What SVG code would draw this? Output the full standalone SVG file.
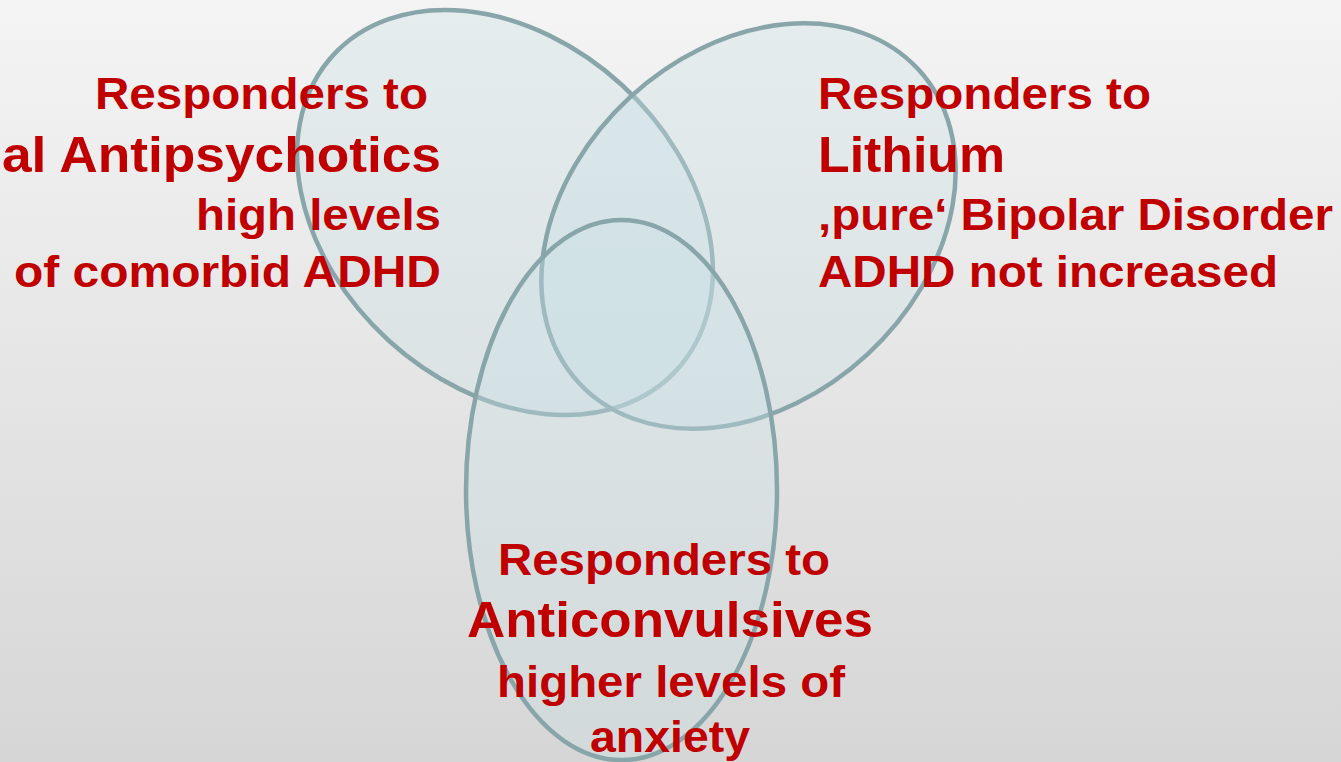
<svg xmlns="http://www.w3.org/2000/svg" width="1341" height="762" viewBox="0 0 1341 762">
  <defs>
    <linearGradient id="bg" x1="0" y1="0" x2="0" y2="1">
      <stop offset="0" stop-color="#f4f4f4"/>
      <stop offset="1" stop-color="#d6d6d6"/>
    </linearGradient>
    <style>
      .set { fill: #c8e0e5; fill-opacity: 0.35; stroke: #88a6aa; stroke-width: 4.5; }
      .lbl { font-family: "Liberation Sans", Arial, sans-serif; font-weight: bold; fill: #c00000; }
      .sm { font-size: 45px; }
      .lg { font-size: 50px; }
    </style>
  </defs>
  <rect x="0" y="0" width="1341" height="762" fill="url(#bg)"/>

  <g id="ellipse-antipsychotics">
    <ellipse class="set" cx="505" cy="212.5" rx="233" ry="173" transform="rotate(42.4 505 212.5)"/>
  </g>
  <g id="ellipse-lithium">
    <ellipse class="set" cx="748.5" cy="226" rx="231" ry="175" transform="rotate(-42.7 748.5 226)"/>
  </g>
  <g id="ellipse-anticonvulsives">
    <ellipse class="set" cx="621.5" cy="490" rx="155.5" ry="270"/>
  </g>

  <g id="label-antipsychotics" class="lbl">
    <text class="sm" x="95" y="109" textLength="333" lengthAdjust="spacingAndGlyphs">Responders to</text>
    <text class="lg" x="2" y="172" textLength="439" lengthAdjust="spacingAndGlyphs">al Antipsychotics</text>
    <text class="sm" x="196" y="230" textLength="245" lengthAdjust="spacingAndGlyphs">high levels</text>
    <text class="sm" x="14" y="287" textLength="427" lengthAdjust="spacingAndGlyphs">of comorbid ADHD</text>
  </g>

  <g id="label-lithium" class="lbl">
    <text class="sm" x="818" y="109" textLength="333" lengthAdjust="spacingAndGlyphs">Responders to</text>
    <text class="lg" x="818" y="172" textLength="187" lengthAdjust="spacingAndGlyphs">Lithium</text>
    <text class="sm" x="818" y="230" textLength="515" lengthAdjust="spacingAndGlyphs">‚pure‘ Bipolar Disorder</text>
    <text class="sm" x="818" y="287" textLength="460" lengthAdjust="spacingAndGlyphs">ADHD not increased</text>
  </g>

  <g id="label-anticonvulsives" class="lbl">
    <text class="sm" x="498" y="575" textLength="332" lengthAdjust="spacingAndGlyphs">Responders to</text>
    <text class="lg" x="467" y="637" textLength="406" lengthAdjust="spacingAndGlyphs">Anticonvulsives</text>
    <text class="sm" x="497" y="697" textLength="348" lengthAdjust="spacingAndGlyphs">higher levels of</text>
    <text class="sm" x="590" y="752" textLength="160" lengthAdjust="spacingAndGlyphs">anxiety</text>
  </g>
</svg>
